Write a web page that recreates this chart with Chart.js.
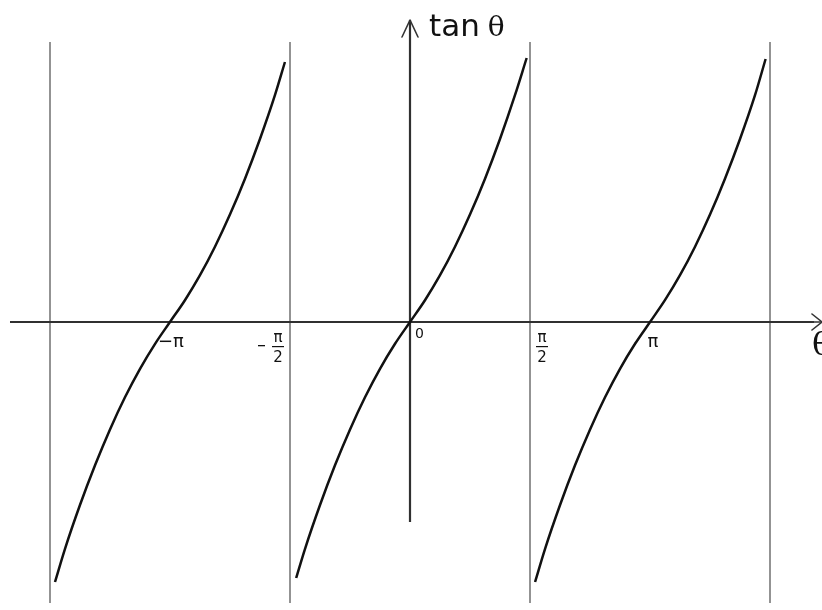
<!DOCTYPE html>
<html><head><meta charset="utf-8">
<script src="https://cdn.jsdelivr.net/npm/chart.js@4/dist/chart.umd.min.js"></script>
<style>html,body{margin:0;padding:0;background:#fff;overflow:hidden}#wrap{width:822px;height:610px;position:relative}</style>
</head><body><div id="wrap"><canvas id="c" width="822" height="610"></canvas></div>
<script>
const PI = Math.PI;
// ---- data (theta in radians, curve value in chart units) ----
const leftTheta  = [-4.647, -4.516, -4.320, -4.123, -3.927, -3.731, -3.534, -3.337, -3.142, -2.946, -2.749, -2.553, -2.357, -2.160, -1.964, -1.768, -1.637];
const leftValue  = [-2.60, -2.268, -1.830, -1.433, -1.074, -0.753, -0.468, -0.218, 0, 0.218, 0.468, 0.753, 1.074, 1.433, 1.830, 2.268, 2.60];
const midTheta   = [-1.490, -1.374, -1.178, -0.982, -0.785, -0.589, -0.393, -0.196, 0, 0.196, 0.393, 0.589, 0.785, 0.982, 1.178, 1.374, 1.527];
const midValue   = [-2.56, -2.268, -1.830, -1.433, -1.074, -0.753, -0.468, -0.218, 0, 0.218, 0.468, 0.753, 1.074, 1.433, 1.830, 2.268, 2.64];
const rightTheta = [1.637, 1.768, 1.964, 2.160, 2.357, 2.553, 2.749, 2.946, 3.142, 3.337, 3.534, 3.731, 3.927, 4.123, 4.320, 4.516, 4.655];
const rightValue = [-2.60, -2.268, -1.830, -1.433, -1.074, -0.753, -0.468, -0.218, 0, 0.218, 0.468, 0.753, 1.074, 1.433, 1.830, 2.268, 2.63];
const asymptotes = [-3*PI/2, -PI/2, PI/2, 3*PI/2];
const asymTop = 2.80, asymBottom = -2.81;
const tickValues = [-PI, -PI/2, 0, PI/2, PI];
const tickLabels = ['−π', '−π/2', '0', 'π/2', 'π'];
const xAxisFrom = -5.236, xAxisTo = 5.288;
const yAxisFrom = -2.00, yAxisTo = 3.02;

const toPts = (xs, ys) => xs.map((x, i) => ({x, y: ys[i]}));

const datasets = [];
asymptotes.forEach(a => datasets.push({
  data: [{x:a, y:asymBottom},{x:a, y:asymTop}],
  borderColor:'#939393', borderWidth:2, pointRadius:0, showLine:true, order:3
}));
datasets.push({data:[{x:xAxisFrom,y:0},{x:xAxisTo,y:0}], borderColor:'#303030', borderWidth:2.2, pointRadius:0, showLine:true, order:2});
datasets.push({data:[{x:0,y:yAxisFrom},{x:0,y:yAxisTo}], borderColor:'#303030', borderWidth:2.2, pointRadius:0, showLine:true, order:2});
[[leftTheta,leftValue],[midTheta,midValue],[rightTheta,rightValue]].forEach(([xs,ys]) => datasets.push({
  data: toPts(xs, ys), borderColor:'#111', borderWidth:2.5, pointRadius:0, showLine:true,
  cubicInterpolationMode:'monotone', order:1
}));

const decor = {
  id:'decor',
  afterDatasetsDraw(chart){
    const ctx = chart.ctx, xs = chart.scales.x, ys = chart.scales.y;
    const ox = xs.getPixelForValue(0), oy = ys.getPixelForValue(0);
    ctx.save();
    ctx.strokeStyle = '#333'; ctx.lineWidth = 1.6; ctx.lineCap='round'; ctx.lineJoin='round';
    // arrow at right end of horizontal axis
    const ex = xs.getPixelForValue(xAxisTo) + 8;
    ctx.beginPath(); ctx.moveTo(ex-10, oy-8); ctx.lineTo(ex, oy); ctx.lineTo(ex-10, oy+8); ctx.stroke();
    ctx.beginPath(); ctx.moveTo(ex-10, oy); ctx.lineTo(ex, oy); ctx.stroke();
    // arrow at top of vertical axis
    const ty = ys.getPixelForValue(yAxisTo);
    ctx.beginPath(); ctx.moveTo(ox-8, ty+17); ctx.lineTo(ox, ty); ctx.lineTo(ox+8, ty+17); ctx.stroke();
    ctx.fillStyle = '#111';
    // axis titles
    ctx.textBaseline = 'alphabetic'; ctx.textAlign='left';
    ctx.font = '31px "DejaVu Sans"';
    ctx.fillText('tan', ox + 19, 36);
    const tw = ctx.measureText('tan ').width;
    ctx.font = '28px "DejaVu Serif"';
    ctx.fillText('θ', ox + 19 + tw - 2, 36);
    ctx.font = '32px "DejaVu Serif"';
    ctx.fillText('θ', ex - 10, oy + 33);
    // tick labels
    tickLabels.forEach((lab, i) => {
      const px = xs.getPixelForValue(tickValues[i]);
      if (lab.includes('/')) {
        const neg = lab.startsWith('−');
        const cx = px + (neg ? -12 : 12);
        ctx.font = '15px "DejaVu Sans"'; ctx.textAlign = 'center';
        ctx.fillText('π', cx, oy + 20);
        ctx.fillText('2', cx, oy + 40);
        ctx.fillRect(cx - 6, oy + 24, 12, 1.2);
        if (neg) { ctx.fillRect(cx - 20, oy + 23, 7, 1.3); }
      } else if (lab === '0') {
        ctx.font = '14px "DejaVu Sans"'; ctx.textAlign = 'left';
        ctx.fillText(lab, px + 5, oy + 16);
      } else {
        ctx.font = '18px "DejaVu Sans"'; ctx.textAlign = 'center';
        ctx.fillText(lab, px + (lab.startsWith('−') ? 1 : 3), oy + 25);
      }
    });
    ctx.restore();
  }
};

new Chart(document.getElementById('c'), {
  type:'scatter',
  data:{datasets},
  options:{
    responsive:false, animation:false,
    layout:{padding:0},
    plugins:{legend:{display:false}, tooltip:{enabled:false}},
    scales:{
      x:{type:'linear', display:false, min:-410*PI/240, max:412*PI/240},
      y:{type:'linear', display:false, min:-2.88, max:3.22}
    }
  },
  plugins:[decor]
});
</script>
</body></html>
